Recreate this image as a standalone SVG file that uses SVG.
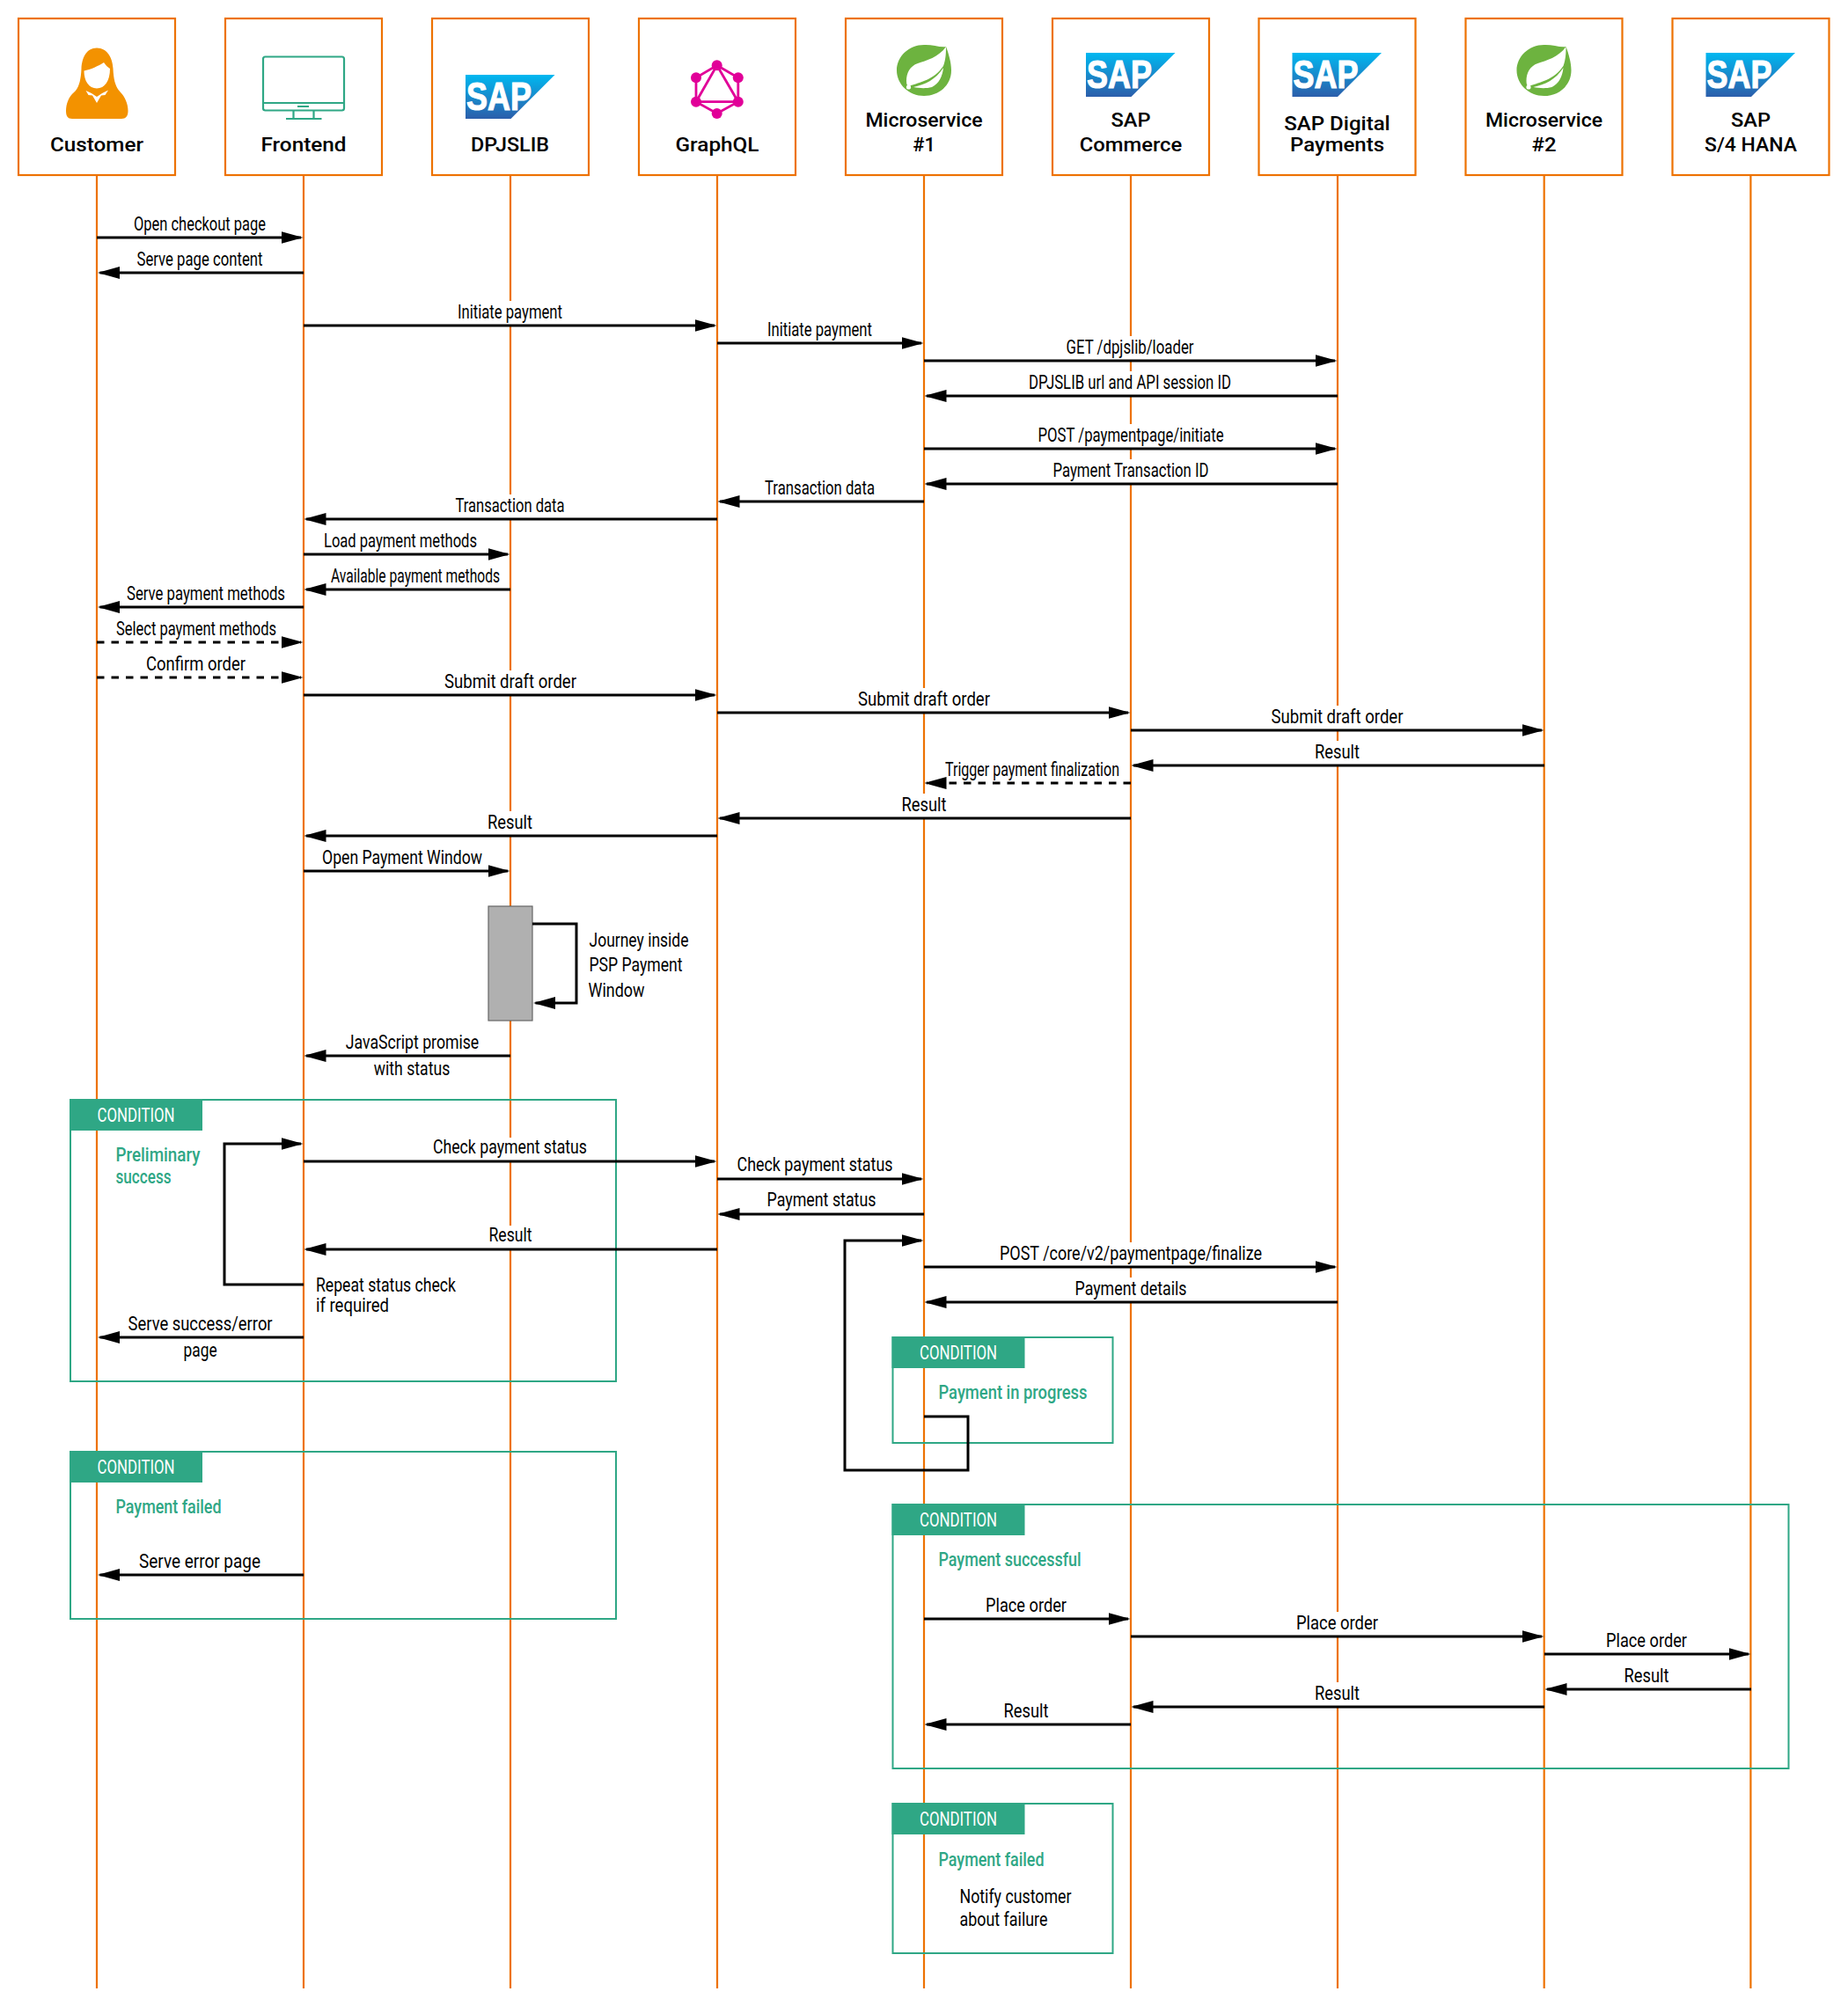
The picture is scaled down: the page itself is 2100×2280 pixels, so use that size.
<svg xmlns="http://www.w3.org/2000/svg" xmlns:xlink="http://www.w3.org/1999/xlink" width="2100" height="2280" viewBox="0 0 2100 2280">
<style>
text{font-family:Roboto,"Liberation Sans",sans-serif;font-size:22px;fill:#000}
.c{text-anchor:middle}
.h{font-size:22.500px;font-weight:500;text-anchor:middle}
.box{fill:#fff;stroke:#ED7203;stroke-width:2.2}
.life{stroke:#ED7203;stroke-width:2.2;fill:none}
.frame{fill:none;stroke:#2FA785;stroke-width:2}
.tab{fill:#2FA785}
.tabt{fill:#fff;text-anchor:middle}
.gr{fill:#2FA785;font-weight:500}
.m{stroke:#000;stroke-width:3;fill:none;marker-end:url(#arr)}
.d{stroke-dasharray:8.5 8}
.bg{fill:#fff}
.sapt{font-family:"Liberation Sans",Arial,sans-serif;font-size:44px;font-weight:700;fill:#fff;stroke:#fff;stroke-width:1.200}
.gl{stroke:#E10098;stroke-width:2.8;fill:none}
.gd{fill:#E10098}
.mon{stroke:#2FA785;stroke-width:2.2;fill:none}
</style>
<defs>
<marker id="arr" markerUnits="userSpaceOnUse" viewBox="0 0 25 14" refX="22.5" refY="7" markerWidth="25" markerHeight="14" orient="auto"><path d="M0 0L25 7L0 14Z" fill="#000"/></marker>
<linearGradient id="sapg" x1="0" y1="0" x2="0" y2="1"><stop offset="0" stop-color="#00B8F1"/><stop offset="0.55" stop-color="#1A86C8"/><stop offset="1" stop-color="#2B5EAB"/></linearGradient>
<polygon id="sapbg" points="0,0 101.5,0 51.5,50 0,50" fill="url(#sapg)"/>
<g id="leaf">
<path d="M49 2C58 1.500 67 5 74 4C77 12 80 22 80 31C80 48 66 60 49 60C32 60 18 47 18 31C18 15 32 2 49 2Z" fill="#6DB33F"/>
<path d="M74 4C66 16 51 20 42 23C33 26 29 34 29 43C29 47 30 49 32 49C45 44 60 42 71 26C74 18 74 10 74 4Z" fill="#fff"/>
<path d="M37 50C50 47 62 42 71 28C70 38 66 46 58 50C50 52 43 51 37 50Z" fill="#fff"/>
<circle cx="31.500" cy="50" r="2.600" fill="#fff"/>
</g>
</defs>
<rect width="2100" height="2280" fill="#fff"/>

<g id="lifelines">
<path class="life" d="M110 199V2260M345 199V2260M580 199V2260M815 199V2260M1050 199V2260M1285 199V2260M1520 199V2260M1754.700 199V2260M1989.400 199V2260"/>
</g>

<g id="condition-preliminary">
<rect class="frame" x="80" y="1250" width="620" height="320"/>
<rect class="tab" x="79" y="1249" width="151" height="36"/>
<text class="tabt" x="154.600" y="1275" textLength="88" lengthAdjust="spacingAndGlyphs">CONDITION</text>
<text class="gr" x="131.500" y="1320" textLength="96" lengthAdjust="spacingAndGlyphs">Preliminary</text>
<text class="gr" x="131.500" y="1345" textLength="63" lengthAdjust="spacingAndGlyphs">success</text>
</g>
<g id="condition-failed-left">
<rect class="frame" x="80" y="1650" width="620" height="190"/>
<rect class="tab" x="79" y="1649" width="151" height="36"/>
<text class="tabt" x="154.600" y="1675" textLength="88" lengthAdjust="spacingAndGlyphs">CONDITION</text>
<text class="gr" x="131.500" y="1720" textLength="120" lengthAdjust="spacingAndGlyphs">Payment failed</text>
</g>
<g id="condition-in-progress">
<rect class="frame" x="1014.500" y="1520" width="250" height="120"/>
<rect class="tab" x="1013.500" y="1519" width="151" height="36"/>
<text class="tabt" x="1089" y="1545" textLength="88" lengthAdjust="spacingAndGlyphs">CONDITION</text>
<text class="gr" x="1066.500" y="1590" textLength="169" lengthAdjust="spacingAndGlyphs">Payment in progress</text>
</g>
<g id="condition-successful">
<rect class="frame" x="1014.500" y="1710" width="1018" height="300"/>
<rect class="tab" x="1013.500" y="1709" width="151" height="36"/>
<text class="tabt" x="1089" y="1735" textLength="88" lengthAdjust="spacingAndGlyphs">CONDITION</text>
<text class="gr" x="1066.500" y="1780" textLength="162" lengthAdjust="spacingAndGlyphs">Payment successful</text>
</g>
<g id="condition-failed-right">
<rect class="frame" x="1014.500" y="2050" width="250" height="170"/>
<rect class="tab" x="1013.500" y="2049" width="151" height="36"/>
<text class="tabt" x="1089" y="2075" textLength="88" lengthAdjust="spacingAndGlyphs">CONDITION</text>
<text class="gr" x="1066.500" y="2120.500" textLength="120" lengthAdjust="spacingAndGlyphs">Payment failed</text>
<text x="1090.500" y="2163" textLength="127" lengthAdjust="spacingAndGlyphs">Notify customer</text>
<text x="1090.500" y="2188.500" textLength="100" lengthAdjust="spacingAndGlyphs">about failure</text>
</g>

<g id="n-customer">
<rect class="box" x="21" y="21" width="178" height="178"/>
<path d="M110 54.500C98 54.500 93 66 92.500 78C92 90 90 98 86 103L84 105C78 110 75 118 75 126C75 132 77 135 82 135H138C143 135 145.500 132 145.500 126C145.500 118 142 110 137 105L134.500 102C131 97 129 90 128.500 78C128 66 122 54.500 110 54.500Z" fill="#F39200"/>
<path d="M95.500 80.500C103 79 112 75 118 71C120 74 122 76 125 78C125 92 119 100.500 110 100.500C101 100.500 95.500 92 95.500 80.500Z" fill="#fff"/>
<path d="M97.500 103L104 106L110 110L116 106L123 102.500L119.500 108L115 108.500L110 117L105 108.500L100.500 108Z" fill="#fff"/>
<text class="h" x="110" y="172" textLength="106" lengthAdjust="spacingAndGlyphs">Customer</text>
</g>
<g id="n-frontend">
<rect class="box" x="256" y="21" width="178" height="178"/>
<rect class="mon" x="299" y="64.500" width="92" height="61" rx="2.500"/>
<path class="mon" d="M299 117H391M338 121H351M333.500 126V135M356.500 126V135M325 135H365.500"/>
<text class="h" x="345" y="172" textLength="97" lengthAdjust="spacingAndGlyphs">Frontend</text>
</g>
<g id="n-dpjslib">
<rect class="box" x="491" y="21" width="178" height="178"/>
<use xlink:href="#sapbg" href="#sapbg" x="529" y="85"/>
<text class="sapt" x="530" y="125" textLength="74" lengthAdjust="spacingAndGlyphs">SAP</text>
<text class="h" x="579.600" y="172" textLength="89" lengthAdjust="spacingAndGlyphs">DPJSLIB</text>
</g>
<g id="n-graphql">
<rect class="box" x="726" y="21" width="178" height="178"/>
<path class="gl" d="M814.700 74.300L838.800 88.300V115.700L814.700 129L791 115.700V88.300ZM814.700 74.300L838.800 115.700H791Z"/>
<g class="gd"><circle cx="814.700" cy="74.300" r="6"/><circle cx="791" cy="88.300" r="6"/><circle cx="838.800" cy="88.300" r="6"/><circle cx="791" cy="115.700" r="6"/><circle cx="838.800" cy="115.700" r="6"/><circle cx="814.700" cy="129" r="6"/></g>
<text class="h" x="815" y="172" textLength="95" lengthAdjust="spacingAndGlyphs">GraphQL</text>
</g>
<g id="n-ms1">
<rect class="box" x="961" y="21" width="178" height="178"/>
<use xlink:href="#leaf" href="#leaf" x="1001" y="49"/>
<text class="h" x="1050" y="143.700" textLength="133" lengthAdjust="spacingAndGlyphs">Microservice</text>
<text class="h" x="1050" y="172" textLength="25.500" lengthAdjust="spacingAndGlyphs">#1</text>
</g>
<g id="n-commerce">
<rect class="box" x="1196" y="21" width="178" height="178"/>
<use xlink:href="#sapbg" href="#sapbg" x="1234" y="60"/>
<text class="sapt" x="1235" y="100" textLength="74" lengthAdjust="spacingAndGlyphs">SAP</text>
<text class="h" x="1285" y="143.700" textLength="45" lengthAdjust="spacingAndGlyphs">SAP</text>
<text class="h" x="1285" y="172" textLength="116.500" lengthAdjust="spacingAndGlyphs">Commerce</text>
</g>
<g id="n-digital">
<rect class="box" x="1430.500" y="21" width="178" height="178"/>
<use xlink:href="#sapbg" href="#sapbg" x="1468.500" y="60"/>
<text class="sapt" x="1469.500" y="100" textLength="74" lengthAdjust="spacingAndGlyphs">SAP</text>
<text class="h" x="1519.500" y="147.700" textLength="120.500" lengthAdjust="spacingAndGlyphs">SAP Digital</text>
<text class="h" x="1519.500" y="172" textLength="107" lengthAdjust="spacingAndGlyphs">Payments</text>
</g>
<g id="n-ms2">
<rect class="box" x="1665.500" y="21" width="178" height="178"/>
<use xlink:href="#leaf" href="#leaf" x="1705.500" y="49"/>
<text class="h" x="1754.500" y="143.700" textLength="133" lengthAdjust="spacingAndGlyphs">Microservice</text>
<text class="h" x="1754.500" y="172" textLength="28" lengthAdjust="spacingAndGlyphs">#2</text>
</g>
<g id="n-hana">
<rect class="box" x="1900.500" y="21" width="178" height="178"/>
<use xlink:href="#sapbg" href="#sapbg" x="1938.500" y="60"/>
<text class="sapt" x="1939.500" y="100" textLength="74" lengthAdjust="spacingAndGlyphs">SAP</text>
<text class="h" x="1989.500" y="143.700" textLength="45" lengthAdjust="spacingAndGlyphs">SAP</text>
<text class="h" x="1989.500" y="172" textLength="105" lengthAdjust="spacingAndGlyphs">S/4 HANA</text>
</g>

<g id="connectors">
<g id="label-backgrounds">
<rect class="bg" x="518" y="342" width="123" height="28"/>
<rect class="bg" x="1210" y="382" width="149" height="28"/>
<rect class="bg" x="1168" y="422" width="234" height="28"/>
<rect class="bg" x="1178" y="482" width="215" height="28"/>
<rect class="bg" x="1195" y="522" width="181" height="28"/>
<rect class="bg" x="516" y="562" width="128" height="28"/>
<rect class="bg" x="503" y="762" width="154" height="28"/>
<rect class="bg" x="973" y="782" width="154" height="28"/>
<rect class="bg" x="1443" y="802" width="154" height="28"/>
<rect class="bg" x="1492" y="842" width="55" height="28"/>
<rect class="bg" x="1022" y="902" width="55" height="28"/>
<rect class="bg" x="552" y="922" width="55" height="28"/>
<rect class="bg" x="491" y="1293" width="179" height="27"/>
<rect class="bg" x="554" y="1393" width="53" height="27"/>
<rect class="bg" x="1134" y="1412" width="302" height="28"/>
<rect class="bg" x="1220" y="1452" width="131" height="28"/>
<rect class="bg" x="1473" y="1832" width="97" height="28"/>
<rect class="bg" x="1492" y="1912" width="55" height="28"/>
</g>
<g id="labels">
<text class="c" x="227" y="262" textLength="150" lengthAdjust="spacingAndGlyphs">Open checkout page</text>
<text class="c" x="227" y="302" textLength="143" lengthAdjust="spacingAndGlyphs">Serve page content</text>
<text class="c" x="579.500" y="361.500" textLength="119" lengthAdjust="spacingAndGlyphs">Initiate payment</text>
<text class="c" x="931.500" y="381.500" textLength="119" lengthAdjust="spacingAndGlyphs">Initiate payment</text>
<text class="c" x="1284" y="401.500" textLength="145" lengthAdjust="spacingAndGlyphs">GET /dpjslib/loader</text>
<text class="c" x="1284" y="441.500" textLength="230" lengthAdjust="spacingAndGlyphs">DPJSLIB url and API session ID</text>
<text class="c" x="1285" y="501.500" textLength="211" lengthAdjust="spacingAndGlyphs">POST /paymentpage/initiate</text>
<text class="c" x="1285" y="541.500" textLength="177" lengthAdjust="spacingAndGlyphs">Payment Transaction ID</text>
<text class="c" x="931.500" y="561.500" textLength="125" lengthAdjust="spacingAndGlyphs">Transaction data</text>
<text class="c" x="579.500" y="581.500" textLength="124" lengthAdjust="spacingAndGlyphs">Transaction data</text>
<text class="c" x="455" y="621.500" textLength="174" lengthAdjust="spacingAndGlyphs">Load payment methods</text>
<text class="c" x="472" y="661.500" textLength="192" lengthAdjust="spacingAndGlyphs">Available payment methods</text>
<text class="c" x="234" y="681.500" textLength="180" lengthAdjust="spacingAndGlyphs">Serve payment methods</text>
<text class="c" x="223" y="721.500" textLength="182" lengthAdjust="spacingAndGlyphs">Select payment methods</text>
<text class="c" x="222.500" y="761.500" textLength="113" lengthAdjust="spacingAndGlyphs">Confirm order</text>
<text class="c" x="580" y="781.500" textLength="150" lengthAdjust="spacingAndGlyphs">Submit draft order</text>
<text class="c" x="1050" y="801.500" textLength="150" lengthAdjust="spacingAndGlyphs">Submit draft order</text>
<text class="c" x="1519.500" y="821.500" textLength="150" lengthAdjust="spacingAndGlyphs">Submit draft order</text>
<text class="c" x="1519.500" y="861.500" textLength="51" lengthAdjust="spacingAndGlyphs">Result</text>
<text class="c" x="1173" y="881.500" textLength="198" lengthAdjust="spacingAndGlyphs">Trigger payment finalization</text>
<text class="c" x="1050" y="921.500" textLength="51" lengthAdjust="spacingAndGlyphs">Result</text>
<text class="c" x="579.500" y="941.500" textLength="51" lengthAdjust="spacingAndGlyphs">Result</text>
<text class="c" x="457" y="981.500" textLength="182" lengthAdjust="spacingAndGlyphs">Open Payment Window</text>
<text x="669.500" y="1076" textLength="113" lengthAdjust="spacingAndGlyphs">Journey inside</text>
<text x="669.500" y="1104" textLength="106" lengthAdjust="spacingAndGlyphs">PSP Payment</text>
<text x="668.500" y="1133" textLength="64" lengthAdjust="spacingAndGlyphs">Window</text>
<text class="c" x="468.500" y="1192" textLength="151.500" lengthAdjust="spacingAndGlyphs">JavaScript promise</text>
<text class="c" x="468" y="1222" textLength="86.500" lengthAdjust="spacingAndGlyphs">with status</text>
<text class="c" x="579.500" y="1311" textLength="175" lengthAdjust="spacingAndGlyphs">Check payment status</text>
<text class="c" x="926" y="1331" textLength="177" lengthAdjust="spacingAndGlyphs">Check payment status</text>
<text class="c" x="933.500" y="1371" textLength="124" lengthAdjust="spacingAndGlyphs">Payment status</text>
<text class="c" x="580" y="1411" textLength="49" lengthAdjust="spacingAndGlyphs">Result</text>
<text x="359" y="1467.500" textLength="159" lengthAdjust="spacingAndGlyphs">Repeat status check</text>
<text x="359" y="1491" textLength="83" lengthAdjust="spacingAndGlyphs">if required</text>
<text class="c" x="227.600" y="1511.500" textLength="164" lengthAdjust="spacingAndGlyphs">Serve success/error</text>
<text class="c" x="227.600" y="1541.500" textLength="38" lengthAdjust="spacingAndGlyphs">page</text>
<text class="c" x="227" y="1781.500" textLength="138" lengthAdjust="spacingAndGlyphs">Serve error page</text>
<text class="c" x="1285" y="1431.500" textLength="298" lengthAdjust="spacingAndGlyphs">POST /core/v2/paymentpage/finalize</text>
<text class="c" x="1285" y="1471.500" textLength="127" lengthAdjust="spacingAndGlyphs">Payment details</text>
<text class="c" x="1166" y="1831.500" textLength="92" lengthAdjust="spacingAndGlyphs">Place order</text>
<text class="c" x="1519.500" y="1851.500" textLength="93" lengthAdjust="spacingAndGlyphs">Place order</text>
<text class="c" x="1871" y="1871.500" textLength="92" lengthAdjust="spacingAndGlyphs">Place order</text>
<text class="c" x="1871" y="1911.500" textLength="51" lengthAdjust="spacingAndGlyphs">Result</text>
<text class="c" x="1519.500" y="1931.500" textLength="51" lengthAdjust="spacingAndGlyphs">Result</text>
<text class="c" x="1166" y="1951.500" textLength="51" lengthAdjust="spacingAndGlyphs">Result</text>
</g>
<g id="messages">
<path class="m" d="M110 270H342"/>
<path class="m" d="M345 310H113.500"/>
<path class="m" d="M345 370H812"/>
<path class="m" d="M815 390H1047"/>
<path class="m" d="M1050 410H1517"/>
<path class="m" d="M1520 450H1053"/>
<path class="m" d="M1050 510H1517"/>
<path class="m" d="M1520 550H1053"/>
<path class="m" d="M1050 570H818"/>
<path class="m" d="M815 590H348"/>
<path class="m" d="M345 630H577"/>
<path class="m" d="M580 670H348"/>
<path class="m" d="M345 690H113.500"/>
<path class="m d" d="M110 730H342"/>
<path class="m d" d="M110 770H342"/>
<path class="m" d="M345 790H812"/>
<path class="m" d="M815 810H1282"/>
<path class="m" d="M1285 830H1752"/>
<path class="m" d="M1755 870H1288"/>
<path class="m d" d="M1285 890H1053"/>
<path class="m" d="M1285 930H818"/>
<path class="m" d="M815 950H348"/>
<path class="m" d="M345 990H577"/>
<path class="m" d="M580 1200H348"/>
<path class="m" d="M345 1320H812"/>
<path class="m" d="M815 1340H1047"/>
<path class="m" d="M1050 1380H818"/>
<path class="m" d="M815 1420H348"/>
<path class="m" d="M345 1460H255V1300H342"/>
<path class="m" d="M345 1520H113.500"/>
<path class="m" d="M1050 1440H1517"/>
<path class="m" d="M1520 1480H1053"/>
<path class="m" d="M1050 1610H1100V1671H960V1410H1047"/>
<path class="m" d="M345 1790H113.500"/>
<path class="m" d="M1050 1840H1282"/>
<path class="m" d="M1285 1860H1752"/>
<path class="m" d="M1755 1880H1987"/>
<path class="m" d="M1990 1920H1758"/>
<path class="m" d="M1755 1940H1288"/>
<path class="m" d="M1285 1960H1053"/>
</g>
</g>
<g id="activation">
<rect x="555" y="1030" width="50" height="130" fill="#B0B0B0" stroke="#666" stroke-width="1.200"/>
<path class="m" d="M605 1050H655V1140H608.500"/>
</g>
</svg>
